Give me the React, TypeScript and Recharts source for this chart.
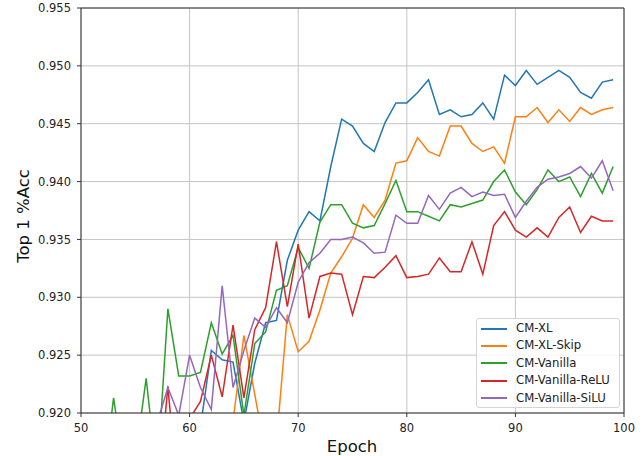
import React from "react";
import {
  LineChart,
  Line,
  XAxis,
  YAxis,
  CartesianGrid,
  Legend,
  ReferenceLine,
} from "recharts";

const epochs = [
  50, 51, 52, 53, 54, 55, 56, 57, 58, 59, 60, 61, 62, 63, 64, 65, 66, 67, 68, 69,
  70, 71, 72, 73, 74, 75, 76, 77, 78, 79, 80, 81, 82, 83, 84, 85, 86, 87, 88, 89,
  90, 91, 92, 93, 94, 95, 96, 97, 98, 99,
];

// values below 0.920 are off the visible range; null where nothing shows
const cmXL = [
  null, null, null, null, null, null, null, null, null, null,
  null, 0.9188, 0.9254, 0.9246, 0.9244, 0.9192, 0.9243, 0.9278, 0.928, 0.9332,
  0.9358, 0.9374, 0.9366, 0.9413, 0.9454, 0.9448, 0.9433, 0.9426, 0.9451, 0.9468,
  0.9468, 0.9477, 0.9488, 0.9458, 0.9462, 0.9456, 0.9458, 0.9468, 0.9454, 0.9492,
  0.9483, 0.9496, 0.9484, 0.949, 0.9496, 0.949, 0.9477, 0.9472, 0.9486, 0.9488,
];

const cmXLSkip = [
  null, null, null, null, null, null, null, null, null, null,
  null, null, null, null, 0.9193, 0.9267, 0.9216, 0.9165, 0.9175, 0.9285,
  0.9253, 0.9262, 0.9289, 0.9321, 0.9335, 0.9351, 0.938, 0.9369, 0.9384, 0.9416,
  0.9418, 0.9438, 0.9426, 0.9422, 0.9448, 0.9448, 0.9433, 0.9426, 0.943, 0.9416,
  0.9456, 0.9456, 0.9464, 0.9451, 0.9462, 0.9452, 0.9464, 0.9458, 0.9462, 0.9464,
];

const cmVanilla = [
  null, null, 0.9136, 0.9213, 0.915, 0.916, 0.923, 0.9144, 0.929, 0.9232,
  0.9232, 0.9235, 0.9278, 0.9251, 0.9267, 0.9198, 0.926, 0.927, 0.9306, 0.931,
  0.9343, 0.9325, 0.9365, 0.938, 0.938, 0.9364, 0.936, 0.9362, 0.9381, 0.9401,
  0.9374, 0.9374, 0.937, 0.9366, 0.938, 0.9378, 0.9381, 0.9384, 0.94, 0.941,
  0.9391, 0.938, 0.9393, 0.941, 0.94, 0.9404, 0.9387, 0.9407, 0.939, 0.9413,
];

const cmVanillaReLU = [
  null, null, null, null, null, null, null, 0.912, 0.9223, 0.912,
  0.9195, 0.921, 0.925, 0.9214, 0.9276, 0.9213, 0.9272, 0.9291, 0.9348, 0.9292,
  0.9346, 0.9282, 0.9318, 0.9321, 0.932, 0.9285, 0.9318, 0.9317, 0.9326, 0.9336,
  0.9317, 0.9318, 0.932, 0.9334, 0.9322, 0.9322, 0.9348, 0.932, 0.9362, 0.9374,
  0.9358, 0.9352, 0.936, 0.9352, 0.9369, 0.9378, 0.9356, 0.937, 0.9366, 0.9366,
];

const cmVanillaSiLU = [
  null, null, null, null, null, null, null, 0.9191, 0.9222, 0.9198,
  0.925, 0.9222, 0.9203, 0.931, 0.9222, 0.9254, 0.9282, 0.9274, 0.9291, 0.9278,
  0.9313, 0.933, 0.9338, 0.935, 0.935, 0.9352, 0.9347, 0.9338, 0.9339, 0.9371,
  0.9364, 0.9364, 0.9388, 0.9376, 0.939, 0.9395, 0.9387, 0.9391, 0.9388, 0.9389,
  0.9369, 0.9383, 0.9395, 0.9402, 0.9404, 0.9407, 0.9413, 0.9403, 0.9418, 0.9392,
];

const xTicks = [50, 60, 70, 80, 90, 100];
const yTicks = [0.92, 0.925, 0.93, 0.935, 0.94, 0.945, 0.95, 0.955];

const series = [
  { key: "xl", name: "CM-XL", color: "#1f77b4" },
  { key: "xlSkip", name: "CM-XL-Skip", color: "#ff7f0e" },
  { key: "vanilla", name: "CM-Vanilla", color: "#2ca02c" },
  { key: "relu", name: "CM-Vanilla-ReLU", color: "#d62728" },
  { key: "silu", name: "CM-Vanilla-SiLU", color: "#9467bd" },
];

const data = epochs.map((epoch, i) => ({
  epoch,
  xl: cmXL[i],
  xlSkip: cmXLSkip[i],
  vanilla: cmVanilla[i],
  relu: cmVanillaReLU[i],
  silu: cmVanillaSiLU[i],
}));

const FONT = "'DejaVu Sans', sans-serif";
const tickStyle = { fontFamily: FONT, fontSize: 11.5, fill: "#222" };

const LegendBox = () => (
  <div
    style={{
      width: 142,
      height: 87,
      border: "1px solid #d5d5d5",
      borderRadius: 3,
      background: "rgba(255,255,255,0.85)",
      paddingTop: 1,
      boxSizing: "content-box",
      fontFamily: FONT,
      fontSize: 11.7,
      color: "#222",
      lineHeight: "17.4px",
    }}
  >
    {series.map((s) => (
      <div
        key={s.key}
        style={{ height: 17.4, display: "flex", alignItems: "center", whiteSpace: "nowrap" }}
      >
        <div
          style={{
            width: 26,
            height: 2,
            marginLeft: 4,
            marginRight: 9,
            background: s.color,
            flexShrink: 0,
          }}
        />
        <span>{s.name}</span>
      </div>
    ))}
  </div>
);

const YLabel = () => (
  <text
    x={23}
    y={216}
    transform="rotate(-90 23 216)"
    textAnchor="middle"
    dominantBaseline="central"
    fontFamily={FONT}
    fontSize={16.5}
    fill="#111"
  >
    Top 1 %Acc
  </text>
);

const XLabel = () => (
  <text
    x={352}
    y={446}
    textAnchor="middle"
    dominantBaseline="central"
    fontFamily={FONT}
    fontSize={16.5}
    fill="#111"
  >
    Epoch
  </text>
);

export default function App() {
  return (
    <div style={{ position: "fixed", left: 0, top: 0, width: 644, height: 456, background: "#fff" }}>
      <LineChart
        width={644}
        height={456}
        data={data}
        margin={{ top: 8, right: 20, left: 0, bottom: 0 }}
      >
        <CartesianGrid stroke="#c4c4c4" strokeWidth={1} />
        <XAxis
          dataKey="epoch"
          type="number"
          domain={[50, 100]}
          ticks={xTicks}
          height={43}
          tick={tickStyle}
          tickSize={4}
          tickMargin={7}
          stroke="#333"
          allowDataOverflow
          label={<XLabel />}
        />
        <YAxis
          type="number"
          domain={[0.92, 0.955]}
          ticks={yTicks}
          width={81}
          tick={tickStyle}
          tickSize={4}
          tickMargin={6}
          tickFormatter={(v: number) => v.toFixed(3)}
          stroke="#333"
          allowDataOverflow
          label={<YLabel />}
        />
        <ReferenceLine y={0.955} stroke="#333" />
        <ReferenceLine x={100} stroke="#333" />
        {series.map((s) => (
          <Line
            key={s.key}
            dataKey={s.key}
            name={s.name}
            stroke={s.color}
            strokeWidth={1.5}
            dot={false}
            activeDot={false}
            isAnimationActive={false}
          />
        ))}
        <Legend
          layout="vertical"
          align="center"
          verticalAlign="middle"
          content={<LegendBox />}
          wrapperStyle={{ position: "absolute", left: 476, top: 318, width: 144, height: 89 }}
        />
      </LineChart>
    </div>
  );
}
